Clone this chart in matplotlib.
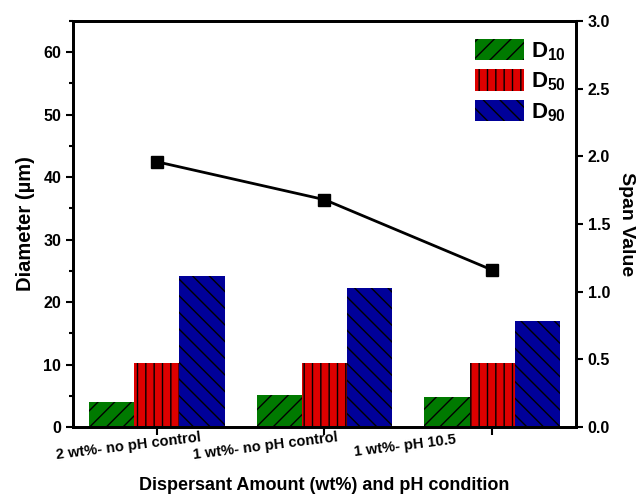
import matplotlib
matplotlib.use("Agg")
import matplotlib.pyplot as plt
import numpy as np
from matplotlib.ticker import MultipleLocator, FormatStrFormatter

plt.rcParams["font.family"] = ["Liberation Sans", "DejaVu Sans"]
plt.rcParams["font.weight"] = "bold"
plt.rcParams["mathtext.fontset"] = "custom"
plt.rcParams["mathtext.rm"] = "Liberation Sans:bold"
plt.rcParams["mathtext.bf"] = "Liberation Sans:bold"
plt.rcParams["hatch.color"] = "black"
plt.rcParams["hatch.linewidth"] = 1.0

categories = ["2 wt%- no pH control", "1 wt%- no pH control", "1 wt%- pH 10.5"]
d10 = [4.0, 5.1, 4.8]
d50 = [10.2, 10.2, 10.2]
d90 = [24.2, 22.2, 17.0]
span = [1.96, 1.68, 1.16]

x = np.arange(len(categories))
w = 0.27
# the category labels sit left of their ticks in the original
label_shift = [0.17, 0.35, 0.52]

fig = plt.figure(figsize=(6.38, 5.04), dpi=100)
ax = fig.add_axes([0.1144, 0.1528, 0.7884, 0.8055])

ax.bar(x - w, d10, w, color="#007a00", hatch="//", label=r"D$_{10}$")
ax.bar(x, d50, w, color="#dd0000", hatch="||", label=r"D$_{50}$")
ax.bar(x + w, d90, w, color="#000099", hatch="\\\\", label=r"D$_{90}$")

ax.set_xlim(-0.5, 2.5)
ax.set_ylim(0, 65)
ax.yaxis.set_major_locator(MultipleLocator(10))
ax.yaxis.set_minor_locator(MultipleLocator(5))
ax.set_xticks(x)
ax.set_xticklabels([])
trans = ax.get_xaxis_transform()
for xi, s, lab in zip(x, label_shift, categories):
    ax.text(xi - s, -0.047, lab, transform=trans, rotation=7, ha="center",
            va="center", fontsize=10.5, fontweight="bold", rotation_mode="anchor")
ax.set_ylabel("Diameter (µm)", fontsize=14.5, fontweight="bold", labelpad=6)
ax.set_xlabel("Dispersant Amount (wt%) and pH condition", fontsize=13,
              fontweight="bold", labelpad=27)
ax.tick_params(axis="y", which="major", direction="out", length=5, width=1.5, labelsize=11.5)
ax.tick_params(axis="y", which="minor", direction="out", length=3, width=1.5)
ax.tick_params(axis="x", direction="out", length=6, width=1.5, pad=3)

ax2 = ax.twinx()
ax2.plot(x, span, color="black", lw=2, marker="s", ms=8)
ax2.set_ylim(0, 3)
ax2.yaxis.set_major_locator(MultipleLocator(0.5))
ax2.yaxis.set_major_formatter(FormatStrFormatter("%.1f"))
ax2.tick_params(axis="y", direction="out", length=5, width=1.5, labelsize=11.5)
ax2.set_ylabel("Span Value", fontsize=14, fontweight="bold", rotation=270, labelpad=18)

for a in (ax, ax2):
    for s in a.spines.values():
        s.set_linewidth(2)

h, l = ax.get_legend_handles_labels()
ax2.legend(h, l, loc="upper right", frameon=False, fontsize=16,
           handlelength=2.2, handleheight=1.1, labelspacing=0.3,
           handletextpad=0.3, borderaxespad=0.4, bbox_to_anchor=(1.015, 1.0))

fig.savefig("out.png", dpi=100)
